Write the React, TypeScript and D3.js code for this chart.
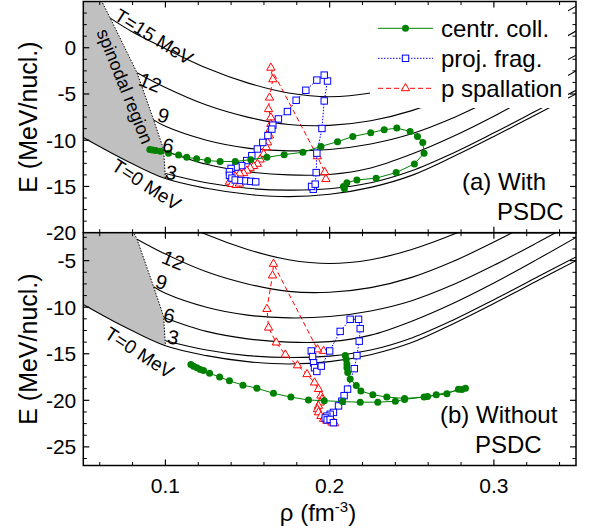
import React from 'react';
import * as d3 from 'd3';

// isotherms E(rho) in MeV/nucl., rho in fm^-3
const iso0 = [[0.05, -9.7], [0.075, -12.1], [0.1, -14.15], [0.125, -15.2], [0.15, -15.85], [0.175, -16.1], [0.2, -15.85], [0.225, -15.1], [0.25, -13.8], [0.275, -11.8], [0.3, -9.6], [0.325, -7.3], [0.35, -5.0]];
const iso3 = [[0.1, -13.6], [0.125, -14.6], [0.15, -15.2], [0.175, -15.4], [0.2, -15.25], [0.225, -14.6], [0.25, -13.3], [0.275, -11.4], [0.3, -9.2], [0.325, -6.9], [0.35, -4.6]];
const iso6 = [[0.099, -11.1], [0.125, -12.6], [0.15, -13.4], [0.175, -13.75], [0.2, -13.7], [0.225, -13.0], [0.25, -11.5], [0.275, -9.6], [0.3, -7.4], [0.325, -5.0], [0.35, -2.5]];
const iso9 = [[0.0928, -7.8], [0.1, -8.5], [0.125, -10.0], [0.15, -10.85], [0.175, -11.15], [0.2, -11.0], [0.225, -10.4], [0.25, -9.3], [0.275, -7.6], [0.3, -5.5], [0.325, -3.2], [0.35, -0.8]];
const iso12 = [[0.0827, -2.7], [0.1, -4.3], [0.125, -6.2], [0.15, -7.5], [0.175, -8.3], [0.2, -8.4], [0.225, -7.9], [0.25, -6.8], [0.275, -5.1], [0.3, -3.0], [0.325, -0.7], [0.35, 1.8]];
const iso15 = [[0.0664, 3.2], [0.08, 1.7], [0.1, -0.1], [0.125, -2.2], [0.15, -3.8], [0.175, -4.9], [0.2, -5.3], [0.225, -4.9], [0.25, -3.8], [0.275, -2.2], [0.3, -0.2], [0.325, 2.0], [0.35, 4.5]];

// spinodal boundary, top to bottom
const spinodal = [[0.058, 7], [0.0613, 5], [0.0664, 3.2], [0.0827, -2.7], [0.0928, -7.8], [0.0989, -11.0], [0.1, -14.15]];

// (a) with PSDC
const centrA = [[0.209, -15.25], [0.2084, -15.0], [0.2105, -14.6], [0.2166, -14.3], [0.2283, -14.1], [0.2405, -13.5], [0.2516, -12.56], [0.2575, -11.4], [0.2567, -10.24], [0.2535, -9.6], [0.249, -9.05], [0.2409, -8.69], [0.2332, -8.87], [0.225, -9.2], [0.2141, -9.6], [0.2048, -10.16], [0.1947, -10.67], [0.1837, -11.3], [0.1723, -11.56], [0.1618, -11.85], [0.152, -12.1], [0.1425, -12.3], [0.1333, -12.3], [0.1257, -12.2], [0.119, -12.0], [0.113, -11.85], [0.108, -11.6], [0.1019, -11.4], [0.097, -11.2], [0.094, -11.1], [0.092, -11.05], [0.0905, -11.0]];
const projA = [[0.19, -15.3], [0.189, -15.0], [0.1912, -14.75], [0.1918, -13.5], [0.1922, -11.4], [0.1953, -8.73], [0.1967, -5.75], [0.1987, -3.6], [0.1967, -2.96], [0.1922, -3.5], [0.1855, -4.6], [0.1796, -5.68], [0.1743, -6.9], [0.1688, -7.7], [0.1654, -8.37], [0.1648, -8.8], [0.1624, -9.5], [0.1593, -10.24], [0.156, -10.95], [0.1526, -11.67], [0.1495, -12.2], [0.1464, -12.74], [0.143, -12.9], [0.14, -13.05], [0.139, -13.4], [0.139, -13.8], [0.1405, -14.1], [0.1425, -14.3], [0.146, -14.35], [0.149, -14.4], [0.152, -14.45], [0.155, -14.5]];
const spallA = [[0.1977, -14.2], [0.197, -13.46], [0.1925, -11.75], [0.1642, -2.17], [0.1654, -3.42], [0.1634, -5.4], [0.1628, -6.65], [0.1642, -7.55], [0.1642, -8.26], [0.1638, -8.8], [0.1634, -9.5], [0.1622, -10.24], [0.1614, -10.77], [0.1598, -11.5], [0.1577, -12.1], [0.156, -12.56], [0.1537, -12.8], [0.1516, -13.0], [0.1496, -13.3], [0.1476, -13.57], [0.1452, -13.6], [0.1425, -13.9], [0.14, -14.2], [0.139, -14.5], [0.1405, -14.75], [0.143, -14.85], [0.145, -14.7]];

// (b) without PSDC
const centrB = [[0.2095, -15.2], [0.2101, -15.6], [0.2105, -16.1], [0.2105, -16.5], [0.211, -17.0], [0.2125, -17.7], [0.2162, -18.4], [0.219, -19.0], [0.2263, -19.4], [0.2348, -19.65], [0.2456, -19.8], [0.2575, -19.65], [0.2714, -19.3], [0.2784, -18.8], [0.2827, -18.7], [0.2805, -18.85], [0.2649, -19.4], [0.2596, -19.6], [0.2456, -19.9], [0.24, -20.1], [0.2293, -20.2], [0.2186, -20.2], [0.2078, -20.14], [0.1967, -20.04], [0.1871, -19.97], [0.1764, -19.65], [0.1658, -19.25], [0.1557, -18.7], [0.1472, -18.37], [0.139, -17.9], [0.133, -17.5], [0.1269, -17.1], [0.1232, -16.8], [0.1212, -16.7], [0.1192, -16.5], [0.1171, -16.33], [0.1155, -16.15]];
const projB = [[0.1888, -14.7], [0.1896, -15.3], [0.1902, -15.97], [0.1908, -16.5], [0.1922, -16.9], [0.1949, -16.33], [0.2, -14.7], [0.2064, -12.6], [0.2125, -11.3], [0.2176, -11.3], [0.2186, -12.3], [0.218, -13.65], [0.2166, -15.2], [0.215, -16.6], [0.2109, -18.8], [0.2088, -19.5], [0.2074, -20.1], [0.2054, -20.6], [0.2023, -21.3], [0.2003, -21.5], [0.1983, -21.7], [0.1973, -21.9], [0.1985, -22.1], [0.2003, -22.05], [0.2023, -22.4]];
const spallB = [[0.1963, -14.7], [0.1926, -14.54], [0.1658, -5.35], [0.1652, -6.6], [0.1618, -10.2], [0.1628, -12.2], [0.1675, -13.8], [0.173, -15.1], [0.1804, -16.25], [0.1862, -17.2], [0.1908, -18.1], [0.1932, -18.8], [0.1947, -19.5], [0.1953, -19.9], [0.1942, -20.25], [0.1932, -20.6], [0.1926, -20.97], [0.1932, -21.3], [0.1947, -21.7], [0.1963, -22.0], [0.1983, -22.2], [0.2014, -22.4], [0.203, -22.47]];

const xMajor = [0.1, 0.2, 0.3];
const yMajorA = [0, -5, -10, -15, -20];
const yMajorB = [-5, -10, -15, -20, -25];
const legendNames = ['centr. coll.', 'proj. frag.', 'p spallation'];

const FONT = '"Liberation Sans", Arial, sans-serif';
const GREEN = '#008000';
const BLUE = '#0000ff';
const RED = '#ff0000';
const X0 = 83.3, X1 = 576;

const x = d3.scaleLinear().domain([0.05, 0.35]).range([X0, X1]);

function Marker({ kind, cx, cy }) {
  if (kind === 'circle') return <circle cx={cx} cy={cy} r={3.5} fill={GREEN} />;
  if (kind === 'square') return <rect x={cx - 3.2} y={cy - 3.2} width={6.4} height={6.4} fill="white" stroke={BLUE} strokeWidth={1} />;
  return <path transform={`translate(${cx},${cy})`} d={d3.symbol(d3.symbolTriangle, 30)()} fill="white" stroke={RED} strokeWidth={1} />;
}

function Series({ data, y, color, dash, kind }) {
  const line = d3.line().x(d => x(d[0])).y(d => y(d[1]));
  return (
    <g>
      <path d={line(data)} fill="none" stroke={color} strokeWidth={1} strokeDasharray={dash} />
      {data.map((d, i) => <Marker key={i} kind={kind} cx={x(d[0])} cy={y(d[1])} />)}
    </g>
  );
}

function Panel({ id, top, bottom, yDom, yMajor, labels, centr, proj, spall, note, legend }) {
  const y = d3.scaleLinear().domain(yDom).range([bottom, top]);
  const smooth = d3.line().x(d => x(d[0])).y(d => y(d[1])).curve(d3.curveCatmullRom.alpha(0.5));
  const straight = d3.line().x(d => x(d[0])).y(d => y(d[1]));
  const t0left = iso0.filter(d => d[0] <= 0.1).reverse();
  const grayPts = [[0.05, yDom[1] + 5], ...spinodal, ...t0left];
  const yMinor = d3.range(-30, 10, 1.25).filter(v => v >= yDom[0] && v <= yDom[1] && Math.abs(v % 5) > 0.01);
  const xMinor = d3.range(0.06, 0.35, 0.02).filter(v => Math.abs(v * 10 - Math.round(v * 10)) > 0.01);
  return (
    <g>
      <defs>
        <clipPath id={id}><rect x={X0} y={top} width={X1 - X0} height={bottom - top} /></clipPath>
      </defs>
      <g clipPath={`url(#${id})`}>
        <path d={straight(grayPts) + 'Z'} fill="#c0c0c0" stroke="none" />
        <path d={straight(spinodal)} fill="none" stroke="#000" strokeWidth={1} strokeDasharray="1.5,1.5" />
        {[iso0, iso3, iso6, iso9, iso12, iso15].map((pts, i) => (
          <path key={i} d={smooth(pts)} fill="none" stroke="#000" strokeWidth={1.1} />
        ))}
        {legend && <rect x={370} y={6} width={198} height={102} fill="white" />}
        <Series data={spall} y={y} color={RED} dash="5,3" kind="triangle" />
        <Series data={proj} y={y} color={BLUE} dash="1.5,1.5" kind="square" />
        <Series data={centr} y={y} color={GREEN} kind="circle" />
      </g>
      {labels.map((l, i) => (
        <text key={i} transform={`translate(${x(l.r)},${y(l.e)}) rotate(${l.a})`} fontFamily={FONT} fontSize={l.fs || 20} fill="#000">{l.t}</text>
      ))}
      {/* frame and ticks */}
      <rect x={X0} y={top} width={X1 - X0} height={bottom - top} fill="none" stroke="#000" strokeWidth={1.5} />
      {xMajor.map(v => (
        <g key={v}>
          <line x1={x(v)} x2={x(v)} y1={bottom} y2={bottom - 6} stroke="#000" strokeWidth={1.2} />
          <line x1={x(v)} x2={x(v)} y1={top} y2={top + 6} stroke="#000" strokeWidth={1.2} />
        </g>
      ))}
      {xMinor.map(v => (
        <g key={v}>
          <line x1={x(v)} x2={x(v)} y1={bottom} y2={bottom - 3.5} stroke="#000" strokeWidth={1} />
          <line x1={x(v)} x2={x(v)} y1={top} y2={top + 3.5} stroke="#000" strokeWidth={1} />
        </g>
      ))}
      {yMajor.map(v => (
        <g key={v}>
          <line x1={X0} x2={X0 + 6} y1={y(v)} y2={y(v)} stroke="#000" strokeWidth={1.2} />
          <line x1={X1} x2={X1 - 6} y1={y(v)} y2={y(v)} stroke="#000" strokeWidth={1.2} />
          <text x={X0 - 7} y={y(v) + 7.5} textAnchor="end" fontFamily={FONT} fontSize={21}>{v}</text>
        </g>
      ))}
      {yMinor.map(v => (
        <g key={v}>
          <line x1={X0} x2={X0 + 3.5} y1={y(v)} y2={y(v)} stroke="#000" strokeWidth={1} />
          <line x1={X1} x2={X1 - 3.5} y1={y(v)} y2={y(v)} stroke="#000" strokeWidth={1} />
        </g>
      ))}
      <text transform={`translate(37,${(top + bottom) / 2}) rotate(-90)`} textAnchor="middle" fontFamily={FONT} fontSize={25}>E (MeV/nucl.)</text>
      {note.map((n, i) => (
        <text key={i} x={n.x} y={n.y} fontFamily={FONT} fontSize={24}>{n.t}</text>
      ))}
      {legend && legendNames.map((name, i) => {
        const ly = 28.3 + i * 30;
        const kind = ['circle', 'square', 'triangle'][i];
        const color = [GREEN, BLUE, RED][i];
        const dash = [undefined, '1.5,1.5', '5,3'][i];
        return (
          <g key={name}>
            <line x1={378} x2={433} y1={ly} y2={ly} stroke={color} strokeWidth={1} strokeDasharray={dash} />
            <Marker kind={kind} cx={405.5} cy={ly} />
            <text x={441} y={ly + 8.5} fontFamily={FONT} fontSize={24}>{name}</text>
          </g>
        );
      })}
    </g>
  );
}

const labelsA = [
  { t: 'T=15 MeV', r: 0.0681, e: 3.1, a: 32, fs: 19 },
  { t: '12', r: 0.0829, e: -4.0, a: 22 },
  { t: '9', r: 0.0944, e: -7.9, a: 15 },
  { t: '6', r: 0.0975, e: -11.2, a: 12 },
  { t: '3', r: 0.0993, e: -14.1, a: 12 },
  { t: 'T=0 MeV', r: 0.0664, e: -13.1, a: 33, fs: 19 },
  { t: 'spinodal region', r: 0.0579, e: 1.7, a: 68, fs: 18 },
];
const labelsB = [
  { t: '12', r: 0.0969, e: -5.2, a: 22 },
  { t: '9', r: 0.0932, e: -7.85, a: 15 },
  { t: '6', r: 0.0981, e: -11.5, a: 12 },
  { t: '3', r: 0.1005, e: -13.85, a: 12 },
  { t: 'T=0 MeV', r: 0.0622, e: -13.2, a: 33, fs: 19 },
];

export default function App() {
  return (
    <svg width={594} height={531} style={{ position: 'absolute', left: 0, top: 0, background: 'white' }}>
      <Panel id="clipA" top={1.5} bottom={232.7} yDom={[-20, 5]} yMajor={yMajorA} labels={labelsA}
        centr={centrA} proj={projA} spall={spallA} legend
        note={[{ t: '(a) With', x: 462, y: 190 }, { t: 'PSDC', x: 497, y: 220 }]} />
      <Panel id="clipB" top={232.7} bottom={465.5} yDom={[-27, -2]} yMajor={yMajorB} labels={labelsB}
        centr={centrB} proj={projB} spall={spallB}
        note={[{ t: '(b) Without', x: 440, y: 423 }, { t: 'PSDC', x: 475, y: 453 }]} />
      {xMajor.map(v => (
        <text key={v} x={x(v)} y={493} textAnchor="middle" fontFamily={FONT} fontSize={21}>{v}</text>
      ))}
      <text x={318} y={521} textAnchor="middle" fontFamily={FONT} fontSize={24}>
        ρ (fm<tspan dy={-9} fontSize={15}>-3</tspan><tspan dy={9}>)</tspan>
      </text>
    </svg>
  );
}
